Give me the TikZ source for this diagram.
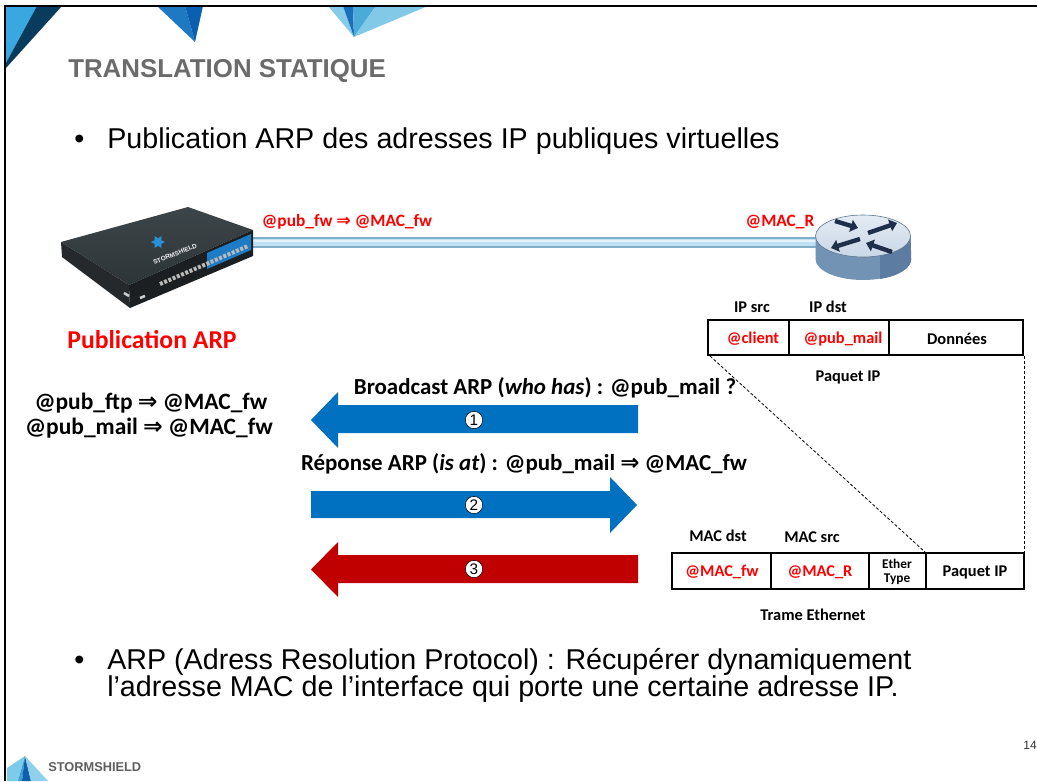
\documentclass[tikz,border=0pt]{standalone}
\usepackage{fontspec}
\setmainfont{Liberation Sans}
\newfontfamily\calib{Carlito}
\newfontfamily\dejavu{DejaVu Sans}
\usetikzlibrary{arrows.meta}

\definecolor{redtxt}{HTML}{FF0000}
\definecolor{titlegray}{HTML}{6B6B6B}
\definecolor{arrowblue}{HTML}{0070C0}
\definecolor{arrowred}{HTML}{C00000}
\definecolor{fwtop}{HTML}{2E3538}
\definecolor{fwtopback}{HTML}{3C4549}
\definecolor{fwfront}{HTML}{1B1F21}
\definecolor{fwleft}{HTML}{25292B}
\definecolor{fwblue}{HTML}{1E7CC6}
\definecolor{fwstar}{HTML}{2B8FD8}
\definecolor{cableout}{HTML}{7DAFC9}
\definecolor{cablein}{HTML}{BFE1F1}
\definecolor{rttop}{HTML}{C9D7E6}
\definecolor{rttoplight}{HTML}{E4ECF4}
\definecolor{rtside}{HTML}{7393B5}
\definecolor{rtsidedark}{HTML}{5C7CA1}
\definecolor{rtarrow}{HTML}{1F2F4A}
\definecolor{logogray}{HTML}{5E5E5E}
% corner decoration shades
\definecolor{decoA}{HTML}{3AA8E0}
\definecolor{decoB}{HTML}{083B5C}
\definecolor{decoC}{HTML}{1E78C2}
\definecolor{decoD}{HTML}{0A60AE}
\definecolor{decoE}{HTML}{86CBE8}
\definecolor{decoF}{HTML}{1C6FBA}
\definecolor{decoG}{HTML}{4AAAD8}
\definecolor{decoH}{HTML}{82C9E7}
\definecolor{logoA}{HTML}{7CCBE8}
\definecolor{logoB}{HTML}{3A9FD6}
\definecolor{logoC}{HTML}{0F5FAE}
\definecolor{logoD}{HTML}{8FD0EA}

\newcommand{\thento}{{\dejavu\bfseries ⇒}}

% one drawing unit = 0.75pt (picture laid out on a 1037 x 781 grid)
\tikzset{
  bodytext/.style={font=\fontsize{21.5}{24}\selectfont, inner sep=0, anchor=base west},
  calbold/.style={font=\calib\bfseries\fontsize{17.2}{20}\selectfont, inner sep=0},
  sidelbl/.style={font=\calib\bfseries\fontsize{17.6}{20}\selectfont, inner sep=0},
  toplbl/.style={font=\calib\bfseries\fontsize{13}{15}\selectfont, inner sep=0, text=redtxt},
  tbl/.style={font=\calib\bfseries\fontsize{12.3}{14}\selectfont, inner sep=0},
  cellred/.style={tbl, text=redtxt},
  frame/.style={draw=black, line width=1.5pt},
  dashline/.style={black, line width=0.6pt, dash pattern=on 2.25pt off 1.5pt},
  numcircle/.style={circle, fill=white, draw=black, line width=0.4pt, inner sep=0,
    minimum size=13pt, font=\fontsize{11.5}{11.5}\selectfont},
}

\begin{document}
\begin{tikzpicture}[x=0.75pt, y=-0.75pt]
\useasboundingbox (0,0) rectangle (1037,781);
\fill[white] (0,0) rectangle (1037,781);

% ---- decorative triangles along the top edge
\fill[decoA] (6,6) -- (37,6) -- (6,63) -- cycle;
\fill[decoB] (37,6) -- (62,6) -- (6,68) -- (6,63) -- cycle;
\fill[decoC] (157,6) -- (185,6) -- (195,42) -- cycle;
\fill[decoD] (185,6) -- (203,6) -- (195,42) -- cycle;
\fill[decoE] (328,6) -- (343,6) -- (354,37) -- cycle;
\fill[decoF] (343,6) -- (353,6) -- (354,37) -- cycle;
\fill[decoG] (353,6) -- (376,6) -- (354,37) -- cycle;
\fill[decoH] (376,6) -- (428,6) -- (354,37) -- cycle;

% ---- slide frame
\draw[line width=1.8pt, black] (5,781) -- (5,6) -- (1037,6);

% ---- title and bullets
\node[font=\bfseries\fontsize{19.4}{22}\selectfont, text=titlegray, inner sep=0, anchor=base west]
  (title) at (68,78) {TRANSLATION STATIQUE};
\node[bodytext] (b1dot) at (74,148) {\textbullet};
\node[bodytext] (b1) at (107,148) {Publication ARP des adresses IP publiques virtuelles};

\node[bodytext] (b2dot) at (74,669) {\textbullet};
\node[bodytext] (b2a) at (107,669) {ARP (Adress Resolution Protocol) : Récupérer dynamiquement};
\node[bodytext] (b2b) at (107,696) {l’adresse MAC de l’interface qui porte une certaine adresse IP.};

% ---- cable between firewall and router
\draw[cableout, line width=8.25pt] (250,242.5) -- (820,242.5);
\draw[cablein, line width=5.25pt] (250,242.5) -- (820,242.5);
\draw[white, opacity=0.6, line width=1.1pt] (250,241) -- (820,241);

% ---- firewall appliance
\shade[top color=fwtopback, bottom color=fwtop] (61,242) -- (188,207) -- (253,230) -- (129,285) -- cycle;
\fill[fwfront] (129,285) -- (253,230) -- (253,256) -- (130,308) -- cycle;
\fill[fwleft] (61,242) -- (129,285) -- (130,308) -- (62,257) -- cycle;
\fill[fwblue] (207,253) -- (251,234) -- (251,250) -- (207,269) -- cycle;
\draw[gray!55, line width=3pt, dash pattern=on 2.25pt off 1.2pt] (160,284) -- (248,246);
\draw[gray!40, line width=1.9pt] (140,298) -- (145,296);
\draw[gray!40, line width=1.9pt] (124,293) -- (129,296);
% star logo on the lid
\foreach \a in {0,60,120} {
  \fill[fwstar, rotate around={\a:(158,242)}] (151,242) -- (158,238.5) -- (165,242) -- (158,245.5) -- cycle;
}
\node[font=\bfseries\fontsize{4.8}{5}\selectfont, text=white!90!gray, rotate=22, inner sep=0]
  (fwbrand) at (175,254) {STORMSHIELD};

% ---- router
\coordinate (rt) at (863,236);
\fill[rtside] (815.5,236) -- (815.5,259) arc[start angle=180, end angle=360, x radius=47.5, y radius=-21] -- (910.5,236) -- cycle;
\fill[rtsidedark] (880,256) -- (880,279) arc[start angle=290, end angle=360, x radius=47.5, y radius=-21] -- (910.5,236) -- cycle;
\shade[top color=rttoplight, bottom color=rttop, draw=rtside!80!black, line width=0.45pt] (rt) ellipse[x radius=47.5, y radius=21];
\begin{scope}[rtarrow, line width=3.3pt, -{Triangle[length=5.5pt, width=9pt]}]
  \draw (835,221) -- (858,228);
  \draw (868,233) -- (897,223);
  \draw (860,239) -- (831,248);
  \draw (892,252) -- (866,243);
\end{scope}

% ---- link labels
\node[toplbl] (lblfw) at (347,222) {@pub\_fw \thento\ @MAC\_fw};
\node[toplbl] (lblr) at (780,222) {@MAC\_R};

% ---- left side labels
\node[font=\calib\bfseries\fontsize{19.3}{22}\selectfont, text=redtxt, inner sep=0] (pubarp) at (152,340) {Publication ARP};
\node[sidelbl] (ftp) at (151,403) {@pub\_ftp \thento\ @MAC\_fw};
\node[sidelbl] (mail) at (149,428) {@pub\_mail \thento\ @MAC\_fw};

% ---- IP packet
\draw[frame] (708,320) rectangle (1023,355);
\draw[frame] (789,320) -- (789,355);
\draw[frame] (889,320) -- (889,355);
\coordinate (ipbl) at (710,356);
\coordinate (ipbr) at (1024,356);
\node[tbl] (ipsrc) at (752,307) {IP src};
\node[tbl] (ipdst) at (828,307) {IP dst};
\node[cellred] (client) at (753,339) {@client};
\node[cellred] (pubmail) at (843,339) {@pub\_mail};
\node[tbl] (donnees) at (957,339) {Données};
\node[tbl] (paquet) at (848,377) {Paquet IP};

% ---- Ethernet frame
\draw[frame] (672,553) rectangle (1024,589);
\draw[frame] (771,553) -- (771,589);
\draw[frame] (869,553) -- (869,589);
\draw[frame] (926,553) -- (926,589);
\coordinate (ethpl) at (925,552);
\coordinate (ethpr) at (1024,552);
\node[tbl] (macdst) at (718,536) {MAC dst};
\node[tbl] (macsrc) at (812,537) {MAC src};
\node[cellred] (macfw) at (722,572) {@MAC\_fw};
\node[cellred] (macr) at (820,572) {@MAC\_R};
\node[tbl, font=\calib\bfseries\fontsize{10}{12}\selectfont, align=center] (ethtype) at (897,572) {Ether\\[-2pt]Type};
\node[tbl] (paquet2) at (975,572) {Paquet IP};
\node[tbl] (trame) at (813,615) {Trame Ethernet};

% encapsulation guides
\draw[dashline] (ipbl) -- (ethpl);
\draw[dashline] (ipbr) -- (ethpr);

% ---- ARP exchange arrows
\fill[arrowblue] (638,405) -- (338,405) -- (338,392) -- (311,420) -- (338,448) -- (338,433) -- (638,433) -- cycle;
\fill[arrowblue] (311,491) -- (610,491) -- (610,477) -- (637,505) -- (610,533) -- (610,518) -- (311,518) -- cycle;
\fill[arrowred] (638,555) -- (338,555) -- (338,542) -- (311,569.5) -- (338,597) -- (338,583) -- (638,583) -- cycle;
\node[numcircle] (n1) at (474,420) {1};
\node[numcircle] (n2) at (474,505) {2};
\node[numcircle] (n3) at (474,569) {3};

\node[calbold] (bcast) at (545,388) {Broadcast ARP (\textit{who has}) : @pub\_mail ?};
\node[calbold] (reply) at (524,464) {Réponse ARP (\textit{is at}) : @pub\_mail \thento\ @MAC\_fw};

% ---- footer
\fill[logoA] (7,768) -- (25,756) -- (18,781) -- (7,781) -- cycle;
\fill[logoB] (25,756) -- (22,781) -- (18,781) -- cycle;
\fill[logoC] (25,756) -- (31,781) -- (22,781) -- cycle;
\fill[logoD] (25,756) -- (48,781) -- (31,781) -- cycle;
\node[font=\bfseries\fontsize{9.6}{11}\selectfont, text=logogray, inner sep=0, anchor=west]
  (footbrand) at (48,767) {STORMSHIELD};
\node[font=\fontsize{9}{10}\selectfont, text=black!80, inner sep=0, anchor=east] (pagenum) at (1037,745) {14};
\end{tikzpicture}
\end{document}
